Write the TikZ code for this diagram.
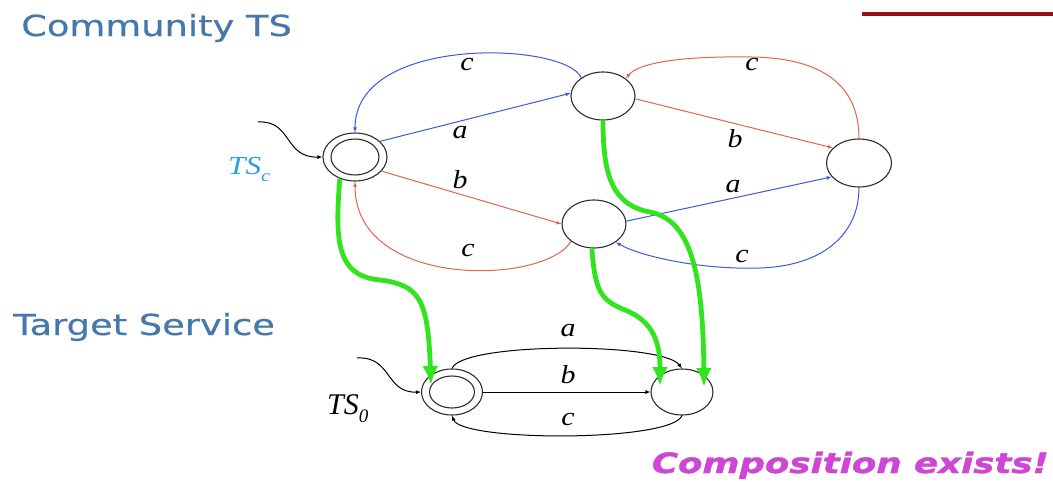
\documentclass[tikz,border=0pt]{standalone}
\usepackage{fontspec}
\setmainfont{Liberation Serif}
\newfontfamily\titlefont[FakeBold=0.4]{DejaVu Sans}
\newfontfamily\punchfont[FakeBold=1.2]{DejaVu Sans}
\usetikzlibrary{shapes.geometric,arrows.meta}

\definecolor{titleblue}{RGB}{70,120,172}
\definecolor{edgeblue}{RGB}{60,90,220}
\definecolor{edgered}{RGB}{228,100,78}
\definecolor{mapgreen}{RGB}{50,228,30}
\definecolor{barred}{RGB}{154,18,16}
\definecolor{tscblue}{RGB}{40,160,225}
\definecolor{punch}{RGB}{205,70,212}
\definecolor{ring}{RGB}{45,45,45}

\newcommand\edgelbl[1]{\scalebox{1.15}[1]{\fontsize{26}{28}\selectfont\itshape #1}}
\newcommand\headline[1]{\scalebox{1.27}[1]{\titlefont\fontsize{29}{32}\selectfont #1}}

\tikzset{
  st/.style={ellipse, draw=ring, line width=1.1pt, inner sep=0pt,
             minimum width=64pt, minimum height=48pt},
  inring/.style={ellipse, draw=ring, line width=1.1pt, inner sep=0pt},
  tr/.style={line width=1pt, -{Latex[length=5pt,width=4pt]}},
  blueedge/.style={tr, draw=edgeblue},
  rededge/.style={tr, draw=edgered},
  blackedge/.style={tr, draw=black},
  mapping/.style={line width=4.8pt, draw=mapgreen,
                  -{Latex[length=19pt,width=16pt]}},
  lbl/.style={inner sep=0pt},
}

\begin{document}
\begin{tikzpicture}[x=1pt,y=-1pt]
\useasboundingbox (0,0) rectangle (1053,482);
\fill[white] (0,0) rectangle (1053,482);

% slide decoration and headings
\draw[barred, line width=4pt] (862,14) -- (1053,14);
\node[lbl, anchor=base west, text=titleblue] (hcomm) at (21,36) {\headline{Community TS}};
\node[lbl, anchor=base west, text=titleblue] (htarget) at (13,335) {\headline{Target Service}};
\node[lbl, anchor=base east, text=punch] (hresult) at (1049,473)
  {\scalebox{1.27}[1]{\punchfont\fontsize{28}{30}\selectfont\bfseries\itshape Composition exists!}};

% community states
\node[st] (TSc) at (355,157) {};
\node[inring, minimum width=48pt, minimum height=36pt] (TScin) at (355,157) {};
\node[st] (T) at (603,96) {};
\node[st] (M) at (594,224) {};
\node[st, minimum width=65pt] (R) at (859,163) {};

% target service states
\node[st, minimum width=61pt, minimum height=46pt] (B0) at (452,392) {};
\node[inring, minimum width=45pt, minimum height=32pt] (B0in) at (452,392) {};
\node[st, minimum width=62pt, minimum height=46pt] (B1) at (682,392) {};

% state labels
\node[lbl, anchor=base west, text=tscblue] (tsclbl) at (228,174)
  {\scalebox{1.2}[1]{\fontsize{26}{28}\selectfont\itshape TS\raisebox{-0.28em}{\fontsize{17}{17}\selectfont c}}};
\node[lbl, anchor=base west] (ts0lbl) at (327,414)
  {\fontsize{30}{32}\selectfont\itshape TS\raisebox{-0.28em}{\fontsize{19}{19}\selectfont 0}};

% initial-state arrows
\coordinate (initc) at (258,122);
\coordinate (init0) at (357,358);
\draw[blackedge] (initc) .. controls (292,120) and (284,158) .. (TSc.west);
\draw[blackedge] (init0) .. controls (392,356) and (385,393) .. (B0.west);

% community transitions
\draw[blueedge] (TSc.32) -- (T.175);
\draw[blueedge] (T.140) .. controls (566,42) and (355,34) .. (TSc.north);
\draw[rededge] (TSc.-28) -- (M.180);
\draw[rededge] (M.217) .. controls (545,285) and (355,290) .. (TSc.south);
\draw[rededge] (T.-5) -- (R.150);
\draw[rededge] (R.north) .. controls (859,85) and (822,58) .. (752,57)
                         .. controls (684,56) and (640,62) .. (T.38);
\draw[blueedge] (M.5) -- (R.207);
\draw[blueedge] (R.south) .. controls (859,235) and (822,266) .. (760,268)
                          .. controls (700,270) and (640,256) .. (M.-40);

\node[lbl] (lc1) at (467,65) {\edgelbl{c}};
\node[lbl] (la1) at (460,133) {\edgelbl{a}};
\node[lbl] (lb1) at (460,180) {\edgelbl{b}};
\node[lbl] (lc2) at (468,250) {\edgelbl{c}};
\node[lbl] (lc3) at (752,65) {\edgelbl{c}};
\node[lbl] (lb2) at (735,139) {\edgelbl{b}};
\node[lbl] (la2) at (733,187) {\edgelbl{a}};
\node[lbl] (lc4) at (742,256) {\edgelbl{c}};

% target transitions
\draw[blackedge] (B0.north) .. controls (462,342) and (662,342) .. (B1.north);
\draw[blackedge] (B0.east) -- (B1.west);
\draw[blackedge] (B1.south) .. controls (672,442) and (462,442) .. (B0.south);
\node[lbl] (la3) at (568,331) {\edgelbl{a}};
\node[lbl] (lb3) at (568,375) {\edgelbl{b}};
\node[lbl] (lc5) at (568,419) {\edgelbl{c}};

% state mapping of the composition
\coordinate (g1) at (431,385);
\coordinate (g2) at (704,387);
\coordinate (g3) at (660,386);
\draw[mapping] (TSc.235) .. controls (335,240) and (336,276) .. (380,280)
                         .. controls (420,285) and (428,300) .. (g1);
\draw[mapping] (T.south) .. controls (603,175) and (612,205) .. (650,212)
                         .. controls (690,220) and (703,270) .. (g2);
\draw[mapping] (M.265) .. controls (595,290) and (600,300) .. (625,310)
                       .. controls (655,322) and (660,345) .. (g3);
\end{tikzpicture}
\end{document}
